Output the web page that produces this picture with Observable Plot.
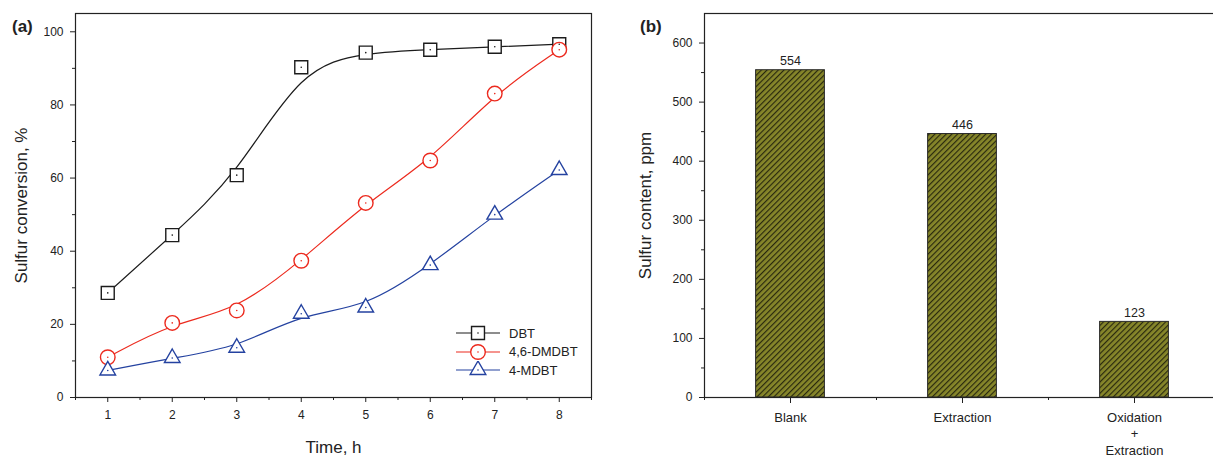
<!DOCTYPE html>
<html><head><meta charset="utf-8">
<script src="https://cdn.jsdelivr.net/npm/d3@7"></script>
<script src="https://cdn.jsdelivr.net/npm/@observablehq/plot@0.6"></script>
<style>
html,body{margin:0;padding:0;background:#fff;overflow:hidden}
#wrap{position:relative;width:1213px;height:458px;overflow:hidden;font-family:"Liberation Sans",Arial,sans-serif;color:#222;background:#fff}
#wrap > svg{position:absolute;top:0}
.panel{position:absolute;top:17px;font-weight:bold;font-size:17px;font-family:"Liberation Sans",Arial,sans-serif}
#legend{position:absolute;left:456px;top:324px;font-size:13px}
#legend .row{display:flex;align-items:center;height:18.5px}
#legend .row span{margin-left:9px}
</style></head><body><div id="wrap"></div>
<script>
// ---- Panel (a) data ----
const hours = [1, 2, 3, 4, 5, 6, 7, 8];
const dbt = [28.6, 44.4, 60.8, 90.3, 94.3, 95.1, 95.9, 96.6];
const dmdbt = [11.0, 20.4, 23.8, 37.4, 53.2, 64.8, 83.1, 95.1];
const mdbt = [7.4, 10.8, 13.6, 22.9, 24.6, 36.2, 50.0, 62.2];
const seriesNames = ["DBT", "4,6-DMDBT", "4-MDBT"];
const seriesColors = ["#1c1c1c", "#ec2a1e", "#2442a0"];
const seriesSymbols = ["square", "circle", "triangle"];
const yTicksA = [0, 20, 40, 60, 80, 100];

// ---- Panel (b) data ----
const categories = ["Blank", "Extraction", "Oxidation\n+\nExtraction"];
const sulfur = [554, 446, 128];
const sulfurLabels = ["554", "446", "123"];
const yTicksB = [0, 100, 200, 300, 400, 500, 600];

const font = '"Liberation Sans", Arial, sans-serif';
const wrap = document.getElementById("wrap");

const seriesValues = [dbt, dmdbt, mdbt];
const rowsA = [];
seriesNames.forEach((s, k) => hours.forEach((h, i) => rowsA.push({series: s, time: h, value: seriesValues[k][i]})));
const symR = {square: 7.3, circle: 7.3, triangle: 5.8};

const A = Plot.plot({
  width: 610, height: 458,
  marginLeft: 75, marginRight: 19, marginTop: 13, marginBottom: 61,
  style: {fontFamily: font, fontSize: "12px", color: "#222", background: "transparent", overflow: "visible"},
  x: {domain: [0.5, 8.5]},
  y: {domain: [0, 105]},
  marks: [
    Plot.axisX({ticks: hours, tickSize: 5, tickPadding: 8, tickFormat: d => String(d), label: null}),
    Plot.axisX({ticks: d3.range(0.5, 8.6, 1), tickSize: 3, tickFormat: () => "", label: null}),
    Plot.axisY({ticks: yTicksA, tickSize: 5, tickPadding: 7, label: null}),
    Plot.axisY({ticks: d3.range(10, 100, 20), tickSize: 3, tickFormat: () => "", label: null}),
    ...seriesNames.map((s, k) => Plot.line(rowsA.filter(d => d.series === s), {
      x: "time", y: "value", stroke: seriesColors[k], strokeWidth: 1.2, curve: "basis"
    })),
    ...seriesNames.map((s, k) => Plot.dot(rowsA.filter(d => d.series === s), {
      x: "time", y: "value", symbol: seriesSymbols[k], r: symR[seriesSymbols[k]],
      stroke: seriesColors[k], fill: "white", strokeWidth: 1.4
    })),
    ...seriesNames.map((s, k) => Plot.dot(rowsA.filter(d => d.series === s), {
      x: "time", y: "value", r: 0.8, fill: seriesColors[k], stroke: null
    })),
    Plot.frame({stroke: "#222", strokeWidth: 1.2}),
    Plot.text(["Time, h"], {frameAnchor: "bottom", lineAnchor: "middle", textAnchor: "middle", dy: 50, fontSize: 17}),
    Plot.text(["Sulfur conversion, %"], {frameAnchor: "left", lineAnchor: "middle", textAnchor: "middle", rotate: -90, dx: -54, fontSize: 17})
  ]
});
A.style.left = "0px";
wrap.appendChild(A);

const rowsB = categories.map((c, i) => ({cat: c, pos: i + 1, value: sulfur[i], label: sulfurLabels[i]}));
const B = Plot.plot({
  width: 610, height: 458,
  marginLeft: 94, marginRight: 0, marginTop: 13, marginBottom: 61,
  style: {fontFamily: font, fontSize: "12px", color: "#222", background: "transparent", overflow: "visible"},
  x: {domain: [0.5, 3.5]},
  y: {domain: [0, 650]},
  marks: [
    Plot.rectY(rowsB, {x1: d => d.pos - 0.2, x2: d => d.pos + 0.2, y1: 0, y2: "value",
      fill: "url(#hatch)", stroke: "#2a2a2a", strokeWidth: 1}),
    Plot.text(rowsB, {x: "pos", y: "value", text: "label", dy: -5, lineAnchor: "bottom", fontSize: 12.5}),
    Plot.axisX({ticks: [1, 2, 3], tickSize: 6, tickPadding: 7, tickFormat: d => categories[d - 1], fontSize: 13, lineHeight: 1.25, label: null}),
    Plot.axisX({ticks: [0.5, 1.5, 2.5], tickSize: 3, tickFormat: () => "", label: null}),
    Plot.axisY({ticks: yTicksB, tickSize: 5, tickPadding: 7, label: null}),
    Plot.axisY({ticks: d3.range(50, 600, 100), tickSize: 3, tickFormat: () => "", label: null}),
    Plot.frame({stroke: "#222", strokeWidth: 1.2}),
    Plot.text(["Sulfur content, ppm"], {frameAnchor: "left", lineAnchor: "middle", textAnchor: "middle", rotate: -90, dx: -59, fontSize: 17})
  ]
});
d3.select(B).insert("defs", ":first-child").html(
  '<pattern id="hatch" patternUnits="userSpaceOnUse" width="4" height="4" patternTransform="rotate(45)">' +
  '<rect width="4" height="4" fill="#86862a"/>' +
  '<line x1="0.6" y1="0" x2="0.6" y2="4" stroke="#23230c" stroke-width="1.1"/></pattern>');
B.style.left = "610px";
wrap.appendChild(B);

// panel labels
[["(a)", 12], ["(b)", 640]].forEach(([t, x]) => {
  const d = document.createElement("div");
  d.className = "panel"; d.style.left = x + "px"; d.textContent = t;
  wrap.appendChild(d);
});

// legend for panel (a)
const leg = document.createElement("div");
leg.id = "legend";
seriesNames.forEach((s, k) => {
  const row = document.createElement("div");
  row.className = "row";
  const svg = d3.create("svg").attr("width", 44).attr("height", 18);
  svg.append("line").attr("x1", 0).attr("x2", 44).attr("y1", 9).attr("y2", 9)
    .attr("stroke", seriesColors[k]).attr("stroke-width", 1.2);
  const sym = {square: d3.symbolSquare, circle: d3.symbolCircle, triangle: d3.symbolTriangle}[seriesSymbols[k]];
  const r = symR[seriesSymbols[k]];
  svg.append("path").attr("transform", "translate(22,9)")
    .attr("d", d3.symbol(sym, Math.PI * r * r)())
    .attr("fill", "white").attr("stroke", seriesColors[k]).attr("stroke-width", 1.4);
  svg.append("circle").attr("cx", 22).attr("cy", 9).attr("r", 0.8).attr("fill", seriesColors[k]);
  row.appendChild(svg.node());
  const sp = document.createElement("span");
  sp.textContent = s;
  row.appendChild(sp);
  leg.appendChild(row);
});
wrap.appendChild(leg);
</script></body></html>
